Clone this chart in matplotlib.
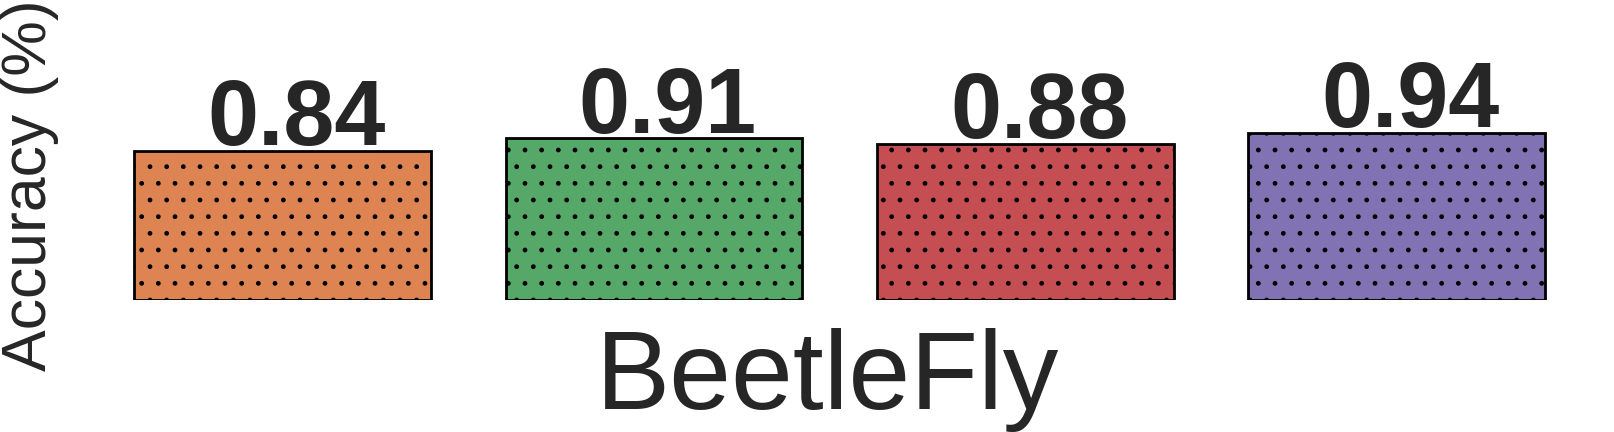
import matplotlib
matplotlib.use("Agg")
import matplotlib.pyplot as plt
import numpy as np

# ---- data ----
dataset = "BeetleFly"
series = ["Model 1", "Model 2", "Model 3", "Model 4"]
accuracy = [0.84, 0.91, 0.88, 0.94]
labels = ["0.84", "0.91", "0.88", "0.94"]
colors = ["#DD8452", "#55A868", "#C44E52", "#8172B3"]

plt.rcParams["font.family"] = ["Liberation Sans", "DejaVu Sans"]
plt.rcParams["hatch.linewidth"] = 1.0
plt.rcParams["hatch.color"] = "black"
text_color = "#262626"

W, H = 1614, 432
fig = plt.figure(figsize=(W / 100, H / 100), dpi=100)
ax = fig.add_axes([63.8 / W, (H - 300) / H, 1551.6 / W, 234 / H])

x = np.arange(len(series))
bars = ax.bar(x, accuracy, width=0.8, color=colors, edgecolor="black",
              linewidth=2.0, hatch=".")

for xi, v, lab in zip(x, accuracy, labels):
    ax.annotate(lab, (xi, v), xytext=(10, 4), textcoords="offset points",
                ha="center", va="baseline", fontsize=66, fontweight="bold",
                color=text_color, annotation_clip=False)

ax.set_xlim(-0.59, 3.59)
ax.set_ylim(0, 1.317)
ax.set_xticks([])
ax.set_yticks([])
for s in ax.spines.values():
    s.set_visible(False)

ax.set_xlabel(dataset, fontsize=80, color=text_color)
ax.xaxis.set_label_coords(0.492, -0.12)
ax.set_ylabel("Accuracy (%)", fontsize=45, color=text_color)
ax.yaxis.set_label_coords(-0.003, 0.49)

fig.savefig("out.png", dpi=100)
